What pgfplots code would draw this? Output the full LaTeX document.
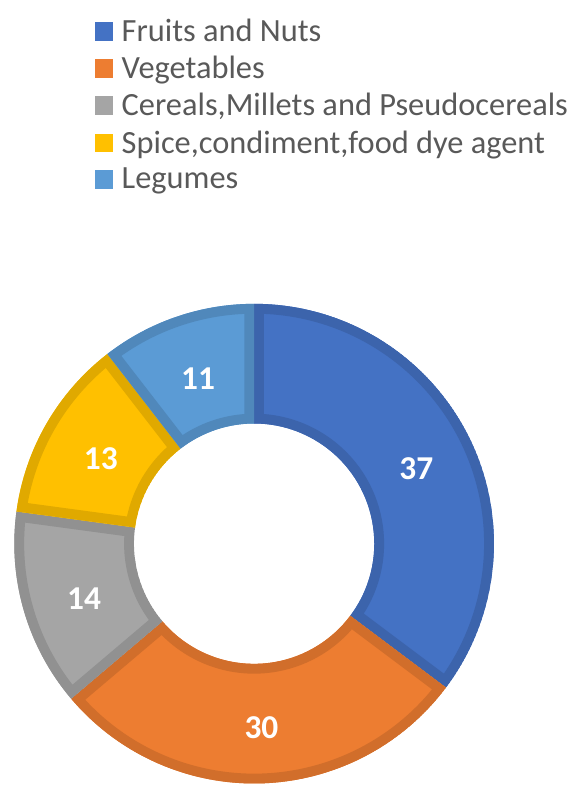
\documentclass[border=0pt]{standalone}
\usepackage{pgfplots}
\pgfplotsset{compat=1.18}
\usepackage{pgfplotstable}
\usepackage{fontspec}
\setmainfont{Carlito}
\definecolor{c0}{HTML}{4472C4}
\definecolor{c1}{HTML}{ED7D31}
\definecolor{c2}{HTML}{A5A5A5}
\definecolor{c3}{HTML}{FFC000}
\definecolor{c4}{HTML}{5B9BD5}
\definecolor{legtext}{HTML}{595959}

\pgfplotstableread{
value
37
30
14
13
11
}\datatable

\begin{document}
\begin{tikzpicture}
\begin{axis}[
  x=1bp, y=1bp, xmin=0, xmax=575, ymin=0, ymax=792,
  hide axis, clip=false, scale only axis,
  legend style={at={(axis cs:96,775)}, anchor=north west, draw=none, fill=none,
    font=\fontsize{33}{36}\selectfont, text=legtext, inner sep=0pt,
    row sep=9.5bp, nodes={inner sep=2bp},
    /tikz/every odd column/.append style={column sep=7bp}},
  legend cell align=left,
  legend image code/.code={\fill[#1] (0bp,-9bp) rectangle (18bp,9bp);},
]
\addlegendimage{c0}\addlegendentry{Fruits and Nuts}
\addlegendimage{c1}\addlegendentry{Vegetables}
\addlegendimage{c2}\addlegendentry{Cereals,Millets and Pseudocereals}
\addlegendimage{c3}\addlegendentry{Spice,condiment,food dye agent}
\addlegendimage{c4}\addlegendentry{Legumes}
\pgfplotsextra{
  \path (axis cs:0,0) rectangle (axis cs:575,792);
  \pgfplotstablegetrowsof{\datatable}
  \pgfmathtruncatemacro{\nrows}{\pgfplotsretval-1}
  \xdef\cum{0}
  \foreach \i in {0,...,\nrows}{
    \pgfplotstablegetelem{\i}{value}\of\datatable
    \let\v\pgfplotsretval
    \pgfmathsetmacro{\aA}{90-\cum/105*360}
    \pgfmathsetmacro{\aB}{90-(\cum+\v)/105*360}
    \pgfmathsetmacro{\aM}{(\aA+\aB)/2}
    \pgfmathsetmacro{\newcum}{\cum+\v}
    \xdef\cum{\newcum}
    \def\sector{(axis cs:258,240) ++(\aA:243.5bp) arc[start angle=\aA, end angle=\aB, radius=243.5bp] -- ([shift={(\aB:122bp)}]axis cs:258,240) arc[start angle=\aB, end angle=\aA, radius=122bp] -- cycle}
    \begin{scope}
      \clip \sector;
      \fill[c\i] \sector;
      \draw[c\i!88!black, line width=20bp] \sector;
    \end{scope}
    \node[text=white, font=\bfseries\fontsize{34}{34}\selectfont] at ([shift={(\aM:182bp)}]axis cs:260,235) {\v};
  }
}
\end{axis}
\end{tikzpicture}
\end{document}
